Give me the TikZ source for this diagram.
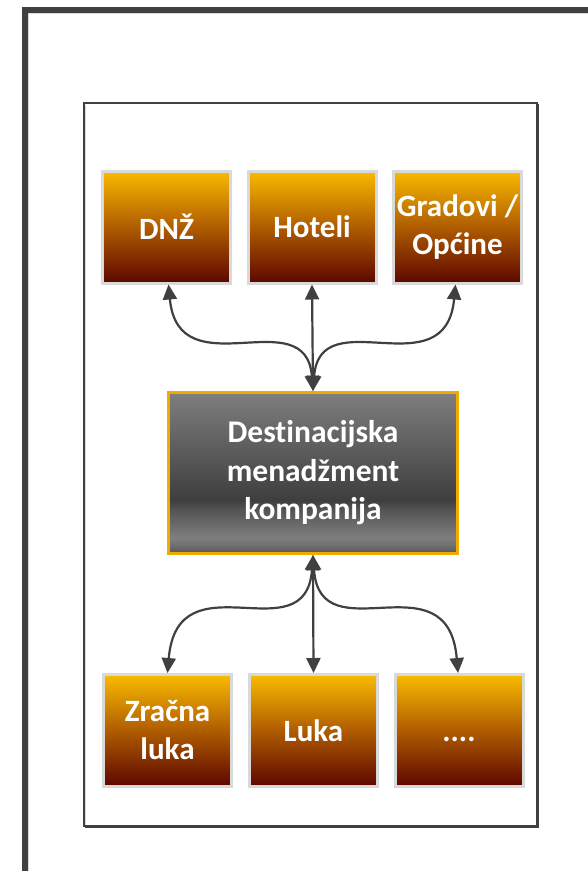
\documentclass[tikz,border=0pt]{standalone}
\usepackage{fontspec}
\setmainfont[Ligatures=NoCommon]{Carlito}
\usetikzlibrary{arrows.meta}

\definecolor{ink}{HTML}{404040}
\definecolor{rim}{HTML}{D9D9D9}
\definecolor{hubrim}{HTML}{F2A900}
% orange unit boxes: bottom rim, dark red, brown, amber
\definecolor{ubA}{RGB}{225,100,40}
\definecolor{ubB}{RGB}{95,8,0}
\definecolor{ubC}{RGB}{175,92,0}
\definecolor{ubD}{RGB}{249,187,0}
% metallic grey of the central box
\definecolor{mgA}{RGB}{85,85,85}
\definecolor{mgB}{RGB}{112,112,112}
\definecolor{mgC}{RGB}{126,126,126}
\definecolor{mgD}{RGB}{82,82,82}
\definecolor{mgE}{RGB}{62,62,62}
\definecolor{mgF}{RGB}{126,126,126}

\pgfdeclareverticalshading{unitshade}{100bp}{color(0bp)=(ubA); color(25bp)=(ubA); color(25.6bp)=(ubB); color(50bp)=(ubC); color(75bp)=(ubD); color(100bp)=(ubD)}
\pgfdeclareverticalshading{hubshade}{100bp}{color(0bp)=(mgA); color(25bp)=(mgA); color(27.5bp)=(mgB); color(30bp)=(mgC); color(39bp)=(mgD); color(41.5bp)=(mgE); color(75bp)=(mgF); color(100bp)=(mgF)}

\tikzset{
  unit/.style={shade, shading=unitshade, draw=rim, line width=3pt,
    minimum width=128pt, minimum height=112pt, inner sep=0pt,
    text=white, align=center, font=\bfseries\fontsize{31}{38}\selectfont},
  hub/.style={shade, shading=hubshade, draw=hubrim, line width=3.2pt,
    minimum width=289pt, minimum height=161pt, inner sep=0pt,
    text=white, align=center, font=\bfseries\fontsize{31.5}{38.5}\selectfont},
  link/.style={draw=ink, line width=2.2pt,
    {Triangle[length=15pt,width=14pt]}-{Triangle[length=15pt,width=14pt]}}
}

\begin{document}
\begin{tikzpicture}[x=1pt, y=-1pt]
  \clip (0,0) rectangle (588,871);
  \fill[white] (0,0) rectangle (588,871);

  % outer frame, running past the page edge
  \draw[ink, line width=6pt] (25,900) -- (25,10) -- (620,10);
  \draw[rim, line width=1pt] (28.5,900) -- (28.5,13.5) -- (620,13.5);

  % inner frame
  \draw[ink, line width=2.2pt] (84,103) rectangle (537,826);
  \draw[ink, line width=1.4pt] (538.3,104) -- (538.3,827.3) -- (85,827.3);
  \draw[rim, line width=0.8pt] (85.6,104.6) -- (85.6,824.6);

  % top row
  \node[unit] (dnz)     at (166.5,227) {DNŽ};
  \node[unit] (hoteli)  at (312,227)   {Hoteli};
  \node[unit] (gradovi) at (457.5,227) {Gradovi /\\Općine};

  % central company
  \node[hub] (dmk) at (313,473) {Destinacijska\\menadžment\\kompanija};

  % bottom row
  \node[unit] (zracna) at (167.5,730.5) {Zračna\\luka};
  \node[unit] (luka)   at (313.5,730.5) {Luka};
  \node[unit] (more)   at (459,730.5)   {\vphantom{Luka}....};

  % links to the top row
  \draw[link] ([xshift=2pt]dnz.south) .. controls +(10,106) and +(-7,-92) .. (dmk.north);
  \draw[link] (hoteli.south) -- (dmk.north);
  \draw[link] ([xshift=-2pt]gradovi.south) .. controls +(-10,106) and +(7,-92) .. (dmk.north);

  % links to the bottom row
  \draw[link] (zracna.north) .. controls +(10,-118) and +(-7,101) .. (dmk.south);
  \draw[link] (luka.north) -- (dmk.south);
  \draw[link] ([xshift=-1pt]more.north) .. controls +(-10,-118) and +(7,101) .. (dmk.south);
\end{tikzpicture}
\end{document}
